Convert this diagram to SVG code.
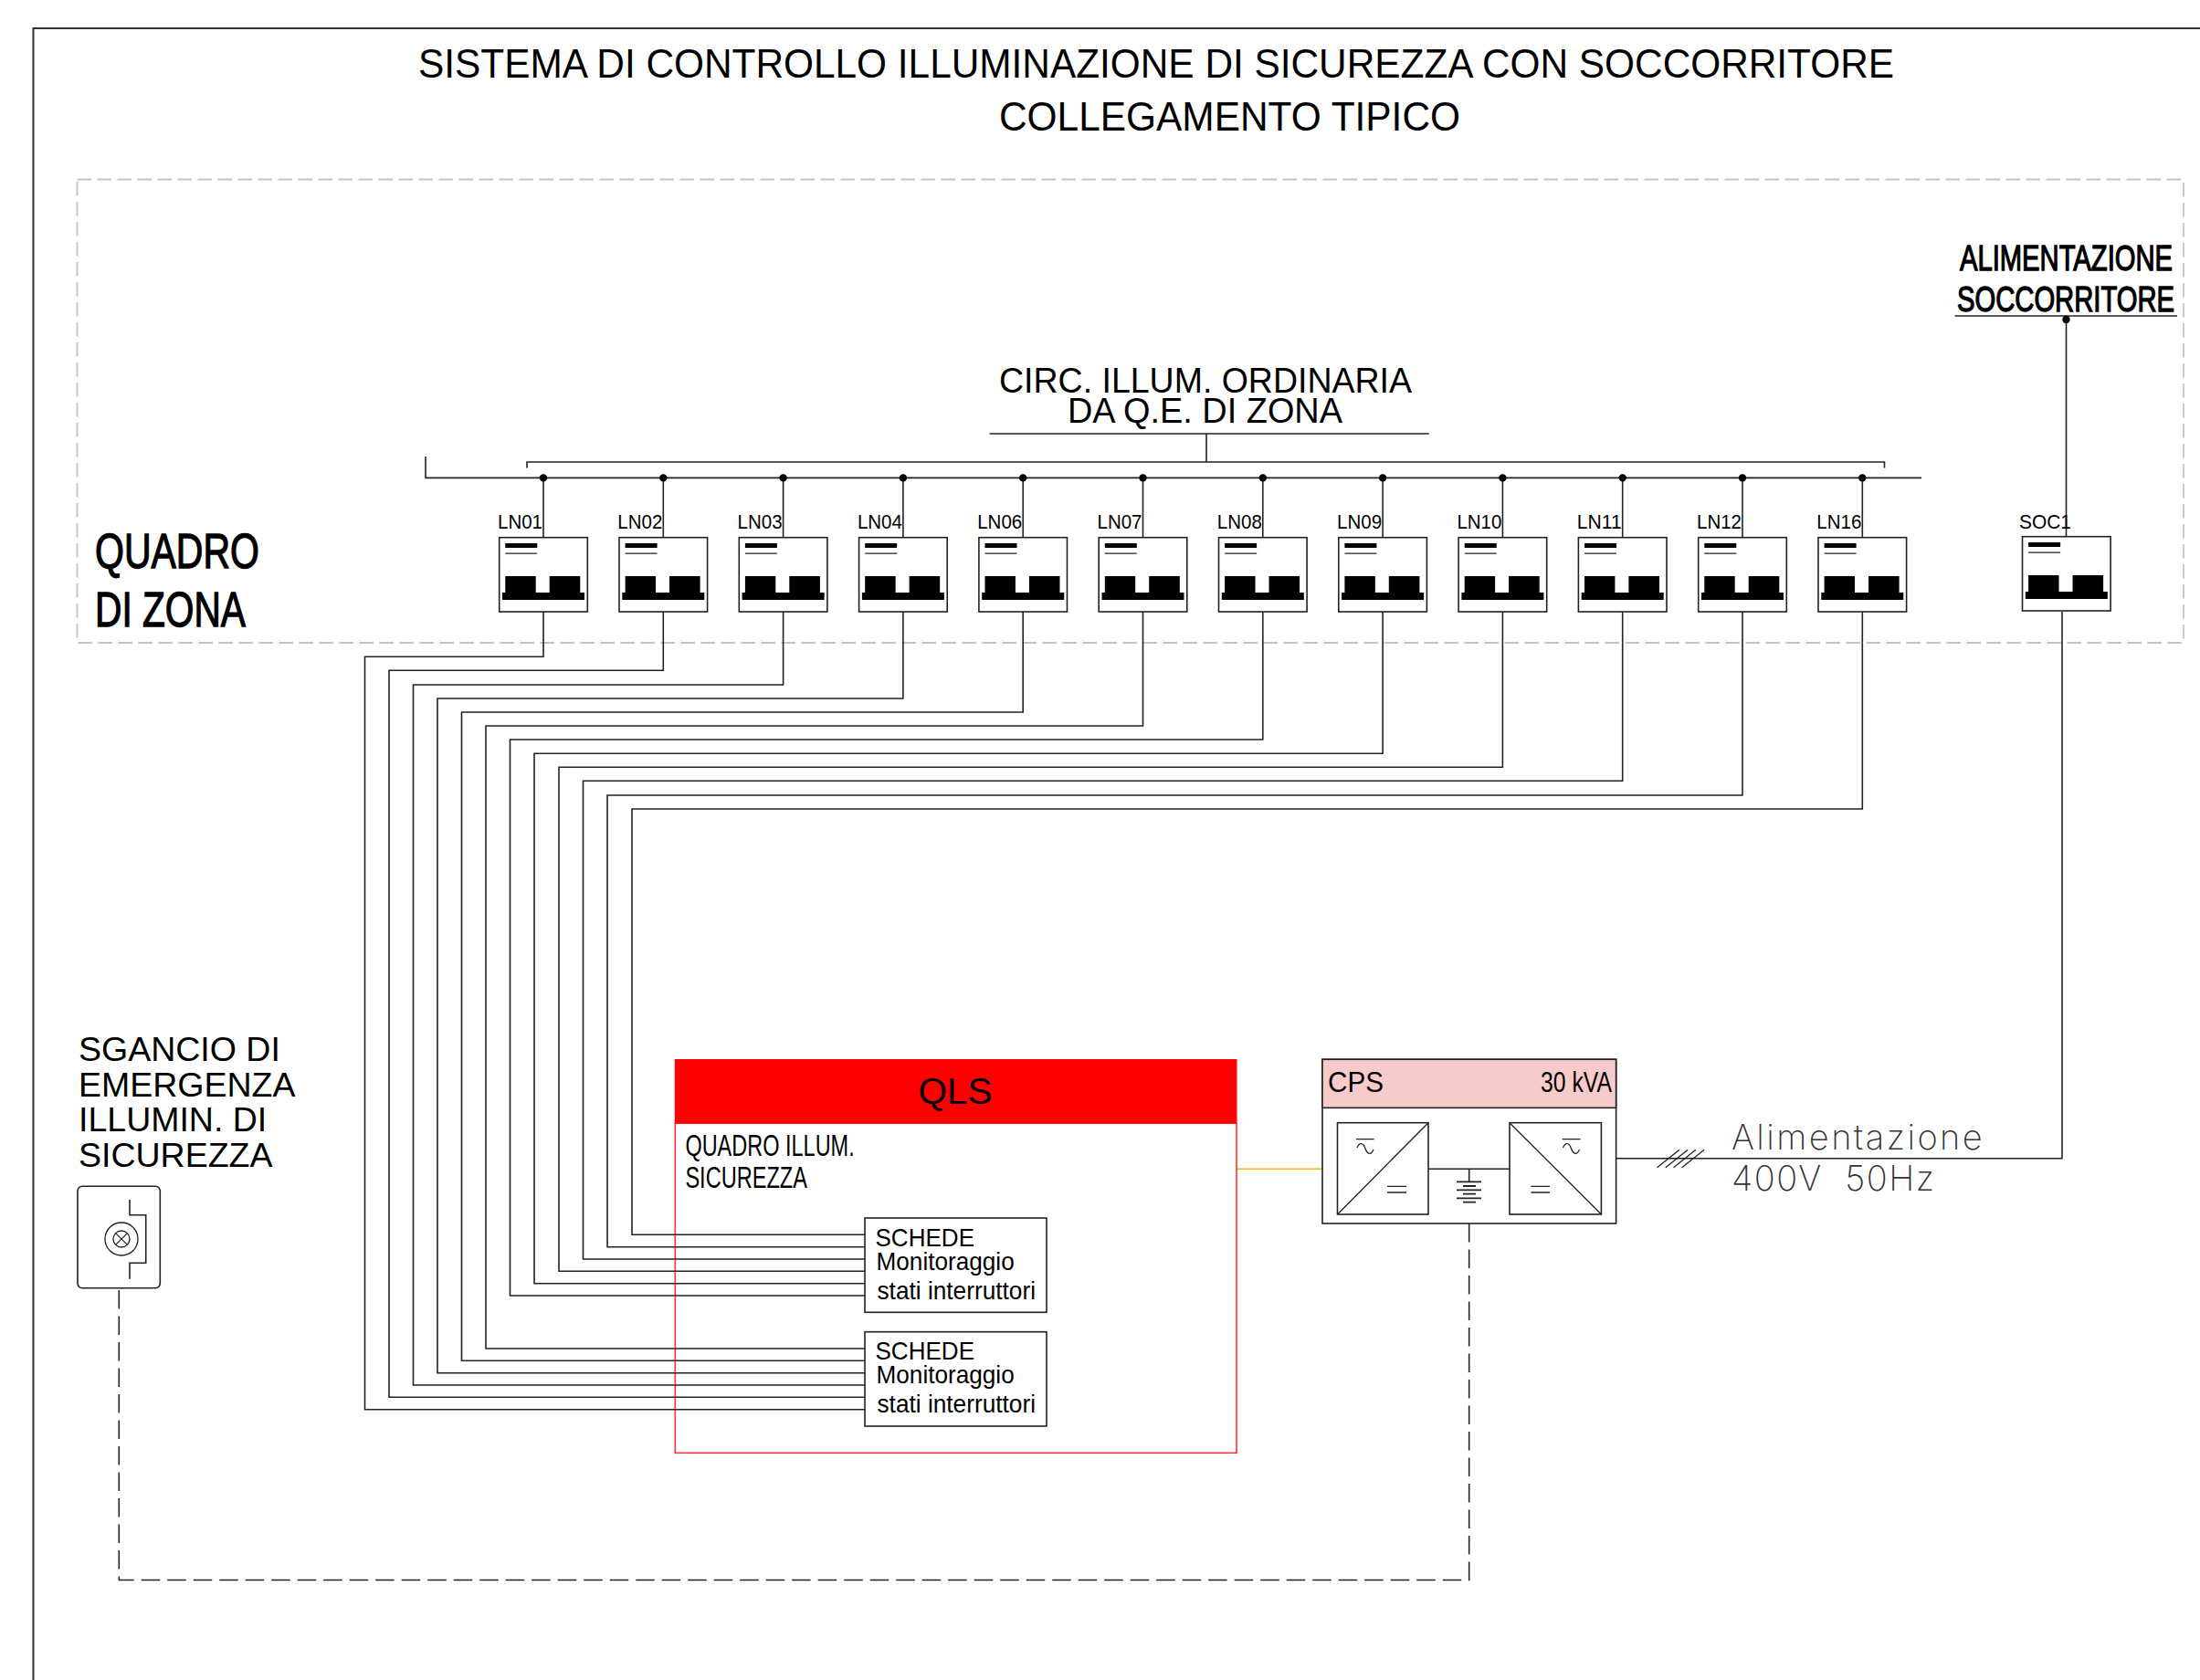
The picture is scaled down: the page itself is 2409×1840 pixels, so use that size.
<svg xmlns="http://www.w3.org/2000/svg" xmlns:xlink="http://www.w3.org/1999/xlink" width="2409" height="1840" viewBox="0 0 2409 1840">
<style>
text{font-family:"Liberation Sans",Arial,sans-serif;fill:#000}
.ln{fill:none;stroke:#222;stroke-width:1.6}
.th{fill:none;stroke:#222;stroke-width:1.3}
.box{fill:#fff;stroke:#222;stroke-width:1.6}
.dash{fill:none;stroke:#222;stroke-width:1.6;stroke-dasharray:20.5 8}
.zone{fill:none;stroke:#c4c4c4;stroke-width:1.8;stroke-dasharray:15.5 6.5}
.blk{fill:#000}
.lbl{font-size:21.5px}
.bold{stroke:#000;stroke-width:1.3px}
.sch{font-size:27.5px}
.cad{font-family:"Inter","Liberation Sans",sans-serif;font-weight:200;fill:#333;font-size:38px}
</style>
<defs>
<g id="mcb">
<rect class="box" x="-48.3" y="0" width="96.6" height="81.3"/>
<rect class="blk" x="-41.7" y="6.3" width="35" height="5"/>
<path class="th" d="M-41.7 17.5H-6.7"/>
<rect class="blk" x="-41.7" y="42.3" width="33.4" height="19"/>
<rect class="blk" x="6.7" y="42.3" width="33.6" height="19"/>
<rect class="blk" x="-45" y="60.3" width="90" height="8"/>
</g>
<g id="feed"><path class="ln" d="M0 523.4V588.7"/><circle class="blk" cx="0" cy="523.4" r="4.2"/></g>
</defs>
<rect width="2409" height="1840" fill="#fff"/>
<path id="frame" d="M36.5 1840V31H2409" fill="none" stroke="#333" stroke-width="2"/>
<rect id="quadro-zona" class="zone" x="84.5" y="196.5" width="2306.5" height="507.5"/>
<g id="titolo">
<text x="458" y="84.5" font-size="44" textLength="1616" lengthAdjust="spacingAndGlyphs">SISTEMA DI CONTROLLO ILLUMINAZIONE DI SICUREZZA CON SOCCORRITORE</text>
<text x="1094" y="143" font-size="44" textLength="505" lengthAdjust="spacingAndGlyphs">COLLEGAMENTO TIPICO</text>
</g>
<g id="quadro-label">
<text class="bold" x="104" y="622" font-size="53" textLength="180" lengthAdjust="spacingAndGlyphs">QUADRO</text>
<text class="bold" x="104" y="686" font-size="53" textLength="165" lengthAdjust="spacingAndGlyphs">DI ZONA</text>
</g>
<g id="circ-label">
<text x="1094" y="429.7" font-size="39" textLength="452" lengthAdjust="spacingAndGlyphs">CIRC. ILLUM. ORDINARIA</text>
<text x="1169" y="462.8" font-size="39" textLength="301" lengthAdjust="spacingAndGlyphs">DA Q.E. DI ZONA</text>
</g>
<g id="alim-label">
<text class="bold" x="2146" y="296" font-size="38" textLength="233" lengthAdjust="spacingAndGlyphs">ALIMENTAZIONE</text>
<text class="bold" x="2143" y="341" font-size="38" textLength="238" lengthAdjust="spacingAndGlyphs">SOCCORRITORE</text>
<path class="ln" d="M2140.6 346H2384"/>
<circle class="blk" cx="2262.5" cy="350" r="4.2"/>
</g>
<g id="connectors">
<path class="ln" d="M466 500V523.4H2104"/>
<path class="ln" d="M577 512.5V506H2063.5V512.5"/>
<path class="ln" d="M1083.6 475H1564.7M1321 475V506"/>
<path class="ln" d="M2262.5 350V587"/>
<path class="ln" d="M2258 670V1268.7H1769.6"/>
<path class="th" d="M1814.6 1278.7L1839 1259.3M1823.8 1278.7L1848.2 1259.3M1832.5 1278.7L1856.9 1259.3M1841.7 1278.7L1866.1 1259.3"/>
<path d="M1354 1280.3H1448" fill="none" stroke="#f5b800" stroke-width="1.6"/>
<path class="dash" d="M1608.7 1340V1730.5H130.3V1410.7"/>
</g>
<g id="QLS">
<rect x="739.3" y="1230" width="614.7" height="361.3" fill="#fff" stroke="#f33" stroke-width="1.6"/>
<rect x="738.8" y="1160" width="615.7" height="70.7" fill="#f00"/>
<text x="1046" y="1209.3" font-size="41" text-anchor="middle" textLength="81" lengthAdjust="spacingAndGlyphs">QLS</text>
<text x="750.4" y="1266" font-size="34" textLength="185.3" lengthAdjust="spacingAndGlyphs">QUADRO ILLUM.</text>
<text x="750.4" y="1301" font-size="34" textLength="133.6" lengthAdjust="spacingAndGlyphs">SICUREZZA</text>
</g>
<g id="feeders">
<path class="ln" d="M595 670V719.3H399.5V1543.7H947"/>
<path class="ln" d="M726.3 670V734.3H426V1530.3H947"/>
<path class="ln" d="M857.6 670V750H452.5V1517H947"/>
<path class="ln" d="M988.9 670V765H479V1503.7H947"/>
<path class="ln" d="M1120.2 670V780H505.5V1490.3H947"/>
<path class="ln" d="M1251.5 670V795H532V1477H947"/>
<path class="ln" d="M1382.8 670V810H558.5V1419H947"/>
<path class="ln" d="M1514.1 670V825.3H585V1405.7H947"/>
<path class="ln" d="M1645.4 670V840.3H612V1392.3H947"/>
<path class="ln" d="M1776.7 670V855.3H638.5V1379H947"/>
<path class="ln" d="M1908 670V871H665V1365.7H947"/>
<path class="ln" d="M2039.3 670V886H692V1352.3H947"/>
</g>
<g id="LN01"><use href="#feed" x="595"/><use href="#mcb" x="595" y="588.7"/><text class="lbl" x="545" y="579" textLength="49" lengthAdjust="spacingAndGlyphs">LN01</text></g>
<g id="LN02"><use href="#feed" x="726.3"/><use href="#mcb" x="726.3" y="588.7"/><text class="lbl" x="676.3" y="579" textLength="49" lengthAdjust="spacingAndGlyphs">LN02</text></g>
<g id="LN03"><use href="#feed" x="857.6"/><use href="#mcb" x="857.6" y="588.7"/><text class="lbl" x="807.6" y="579" textLength="49" lengthAdjust="spacingAndGlyphs">LN03</text></g>
<g id="LN04"><use href="#feed" x="988.9"/><use href="#mcb" x="988.9" y="588.7"/><text class="lbl" x="938.9" y="579" textLength="49" lengthAdjust="spacingAndGlyphs">LN04</text></g>
<g id="LN06"><use href="#feed" x="1120.2"/><use href="#mcb" x="1120.2" y="588.7"/><text class="lbl" x="1070.2" y="579" textLength="49" lengthAdjust="spacingAndGlyphs">LN06</text></g>
<g id="LN07"><use href="#feed" x="1251.5"/><use href="#mcb" x="1251.5" y="588.7"/><text class="lbl" x="1201.5" y="579" textLength="49" lengthAdjust="spacingAndGlyphs">LN07</text></g>
<g id="LN08"><use href="#feed" x="1382.8"/><use href="#mcb" x="1382.8" y="588.7"/><text class="lbl" x="1332.8" y="579" textLength="49" lengthAdjust="spacingAndGlyphs">LN08</text></g>
<g id="LN09"><use href="#feed" x="1514.1"/><use href="#mcb" x="1514.1" y="588.7"/><text class="lbl" x="1464.1" y="579" textLength="49" lengthAdjust="spacingAndGlyphs">LN09</text></g>
<g id="LN10"><use href="#feed" x="1645.4"/><use href="#mcb" x="1645.4" y="588.7"/><text class="lbl" x="1595.4" y="579" textLength="49" lengthAdjust="spacingAndGlyphs">LN10</text></g>
<g id="LN11"><use href="#feed" x="1776.7"/><use href="#mcb" x="1776.7" y="588.7"/><text class="lbl" x="1726.7" y="579" textLength="49" lengthAdjust="spacingAndGlyphs">LN11</text></g>
<g id="LN12"><use href="#feed" x="1908"/><use href="#mcb" x="1908" y="588.7"/><text class="lbl" x="1858" y="579" textLength="49" lengthAdjust="spacingAndGlyphs">LN12</text></g>
<g id="LN16"><use href="#feed" x="2039.3"/><use href="#mcb" x="2039.3" y="588.7"/><text class="lbl" x="1989.3" y="579" textLength="49" lengthAdjust="spacingAndGlyphs">LN16</text></g>
<g id="SOC1"><use href="#mcb" x="2262.8" y="587.7"/><text class="lbl" x="2211" y="579" textLength="57" lengthAdjust="spacingAndGlyphs">SOC1</text></g>
<g id="scheda1">
<rect class="box" x="947" y="1334" width="199" height="103.3"/>
<text class="sch" x="958.5" y="1364.5" textLength="108.5" lengthAdjust="spacingAndGlyphs">SCHEDE</text>
<text class="sch" x="959.5" y="1391" textLength="151.2" lengthAdjust="spacingAndGlyphs">Monitoraggio</text>
<text class="sch" x="960.5" y="1423" textLength="173.5" lengthAdjust="spacingAndGlyphs">stati interruttori</text>
</g>
<g id="scheda2">
<rect class="box" x="947" y="1458.7" width="199" height="103.3"/>
<text class="sch" x="958.5" y="1488.8" textLength="108.5" lengthAdjust="spacingAndGlyphs">SCHEDE</text>
<text class="sch" x="959.5" y="1515.3" textLength="151.2" lengthAdjust="spacingAndGlyphs">Monitoraggio</text>
<text class="sch" x="960.5" y="1547" textLength="173.5" lengthAdjust="spacingAndGlyphs">stati interruttori</text>
</g>
<g id="CPS">
<rect class="box" x="1448" y="1160.3" width="321.6" height="179.7"/>
<rect x="1448" y="1160.3" width="321.6" height="53" fill="#f8cbcb" stroke="#222" stroke-width="1.6"/>
<text x="1454" y="1196" font-size="31" textLength="61" lengthAdjust="spacingAndGlyphs">CPS</text>
<text x="1687" y="1196" font-size="31" textLength="78" lengthAdjust="spacingAndGlyphs">30 kVA</text>
<rect class="box" x="1464.5" y="1229.7" width="99.5" height="100.3"/>
<rect class="box" x="1653" y="1229.7" width="100.4" height="100.3"/>
<path class="th" d="M1464.5 1330L1564 1229.7M1653 1229.7L1753.4 1330"/>
<path class="th" d="M1485 1247.7H1504.6M1486 1257C1488.5 1251 1492.5 1251 1495 1258S1501.5 1265 1504 1259M1519 1299.3H1540M1519 1306H1540"/>
<path class="th" d="M1710.6 1247.7H1730.6M1711.5 1257C1714 1251 1718 1251 1720.5 1258S1727 1265 1729.5 1259M1676.4 1299.3H1697M1676.4 1306H1697"/>
<path class="ln" d="M1564 1280.3H1653M1608.7 1280.3V1294.3"/>
<path d="M1595 1294.3H1622M1602 1299H1616M1595 1303.3H1622M1602 1307.7H1616M1595 1312.3H1622M1602 1316.7H1616" fill="none" stroke="#222" stroke-width="1.8"/>
</g>
<g id="alimentazione-label">
<text class="cad" x="1896" y="1259" textLength="274.7" lengthAdjust="spacing">Alimentazione</text>
<text class="cad" x="1896" y="1304" textLength="222" lengthAdjust="spacing" xml:space="preserve">400V  50Hz</text>
</g>
<g id="sgancio">
<text x="86" y="1161.7" font-size="37.5">SGANCIO DI</text>
<text x="86" y="1200.7" font-size="37.5">EMERGENZA</text>
<text x="86" y="1239" font-size="37.5">ILLUMIN. DI</text>
<text x="86" y="1278" font-size="37.5">SICUREZZA</text>
<rect class="box" x="85" y="1299.3" width="90.3" height="111.4" rx="5"/>
<circle class="th" cx="133" cy="1357" r="18"/>
<circle class="th" cx="133" cy="1357" r="9"/>
<path class="th" d="M126.6 1350.6L139.4 1363.4M139.4 1350.6L126.6 1363.4"/>
<path class="ln" d="M142 1314V1330.7H159.7V1383.3H142V1400.7"/>
</g>
</svg>
